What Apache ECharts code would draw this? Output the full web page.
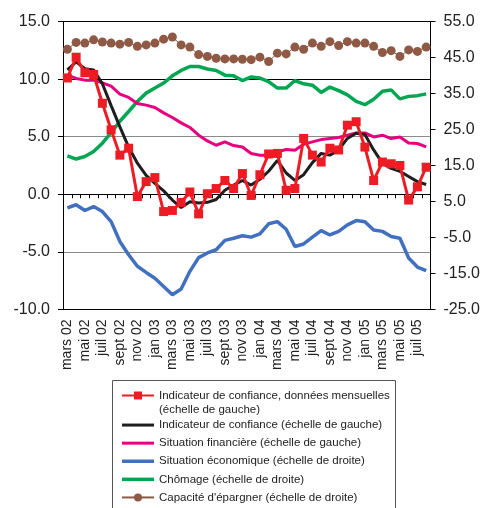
<!DOCTYPE html>
<html>
<head>
<meta charset="utf-8">
<script src="https://cdn.jsdelivr.net/npm/echarts@6/dist/echarts.min.js"></script>
<style>
  html, body { margin: 0; padding: 0; background: #fff; }
  #chart { width: 483px; height: 508px; }
</style>
</head>
<body>
<div id="chart"></div>
<script>
// Monthly categories, March 2002 to August 2005
const months = [
  'mars 02','avr 02','mai 02','juin 02','juil 02','août 02','sept 02','oct 02','nov 02','déc 02',
  'jan 03','févr 03','mars 03','avr 03','mai 03','juin 03','juil 03','août 03','sept 03','oct 03','nov 03','déc 03',
  'jan 04','févr 04','mars 04','avr 04','mai 04','juin 04','juil 04','août 04','sept 04','oct 04','nov 04','déc 04',
  'jan 05','févr 05','mars 05','avr 05','mai 05','juin 05','juil 05','août 05'
];

// Left scale series
const confianceMensuelle = [
  10.1, 11.9, 10.55, 10.4, 7.9, 5.6, 3.4, 4.0, -0.2, 1.1,
  1.45, -1.5, -1.4, -0.7, 0.2, -1.7, 0.05, 0.5, 1.2, 0.5, 1.8, -0.1,
  1.7, 3.5, 3.55, 0.35, 0.5, 4.85, 3.4, 2.8, 4.0, 3.85, 6.0, 6.3,
  4.1, 1.2, 2.8, 2.65, 2.5, -0.5, 0.65, 2.35
];
const confiance = [
  10.8, 11.5, 10.9, 10.8, 9.6, 7.7, 5.85, 4.1, 2.7, 1.65,
  0.95, 0.3, -0.5, -1.15, -0.65, -0.75, -0.7, -0.45, 0.35, 0.8, 1.2, 0.8,
  1.3, 2.0, 2.95, 1.85, 1.2, 1.7, 2.75, 3.55, 3.4, 3.85, 4.85, 5.3,
  5.2, 3.85, 2.7, 2.25, 2.0, 1.55, 1.1, 0.85
];
const situationFinanciere = [
  10.35, 10.06, 9.91, 9.91, 9.68, 9.39, 8.7, 8.41, 7.89, 7.74,
  7.54, 7.07, 6.67, 6.2, 5.8, 5.13, 4.63, 4.26, 4.55, 4.23, 4.11, 3.54,
  3.39, 3.39, 3.68, 3.89, 3.83, 4.35, 4.55, 4.75, 4.84, 4.93, 5.13, 5.33,
  5.33, 4.98, 5.13, 4.84, 4.98, 4.46, 4.41, 4.11
];

// Right scale series
const situationEconomique = [
  3.2, 4.1, 2.5, 3.6, 2.2, -0.6, -6.1, -9.8, -13.0, -14.7,
  -16.3, -18.6, -20.9, -19.3, -14.4, -10.6, -9.3, -8.4, -5.8, -5.2, -4.5, -4.9,
  -4.0, -1.2, -0.6, -2.7, -7.5, -6.8, -4.9, -3.1, -4.3, -3.3, -1.5, -0.3,
  -0.6, -2.9, -3.3, -4.7, -5.2, -10.7, -13.2, -14.2
];
const chomage = [
  17.7, 16.8, 17.5, 18.9, 21.2, 24.1, 27.3, 30.0, 32.8, 35.1,
  36.5, 37.9, 39.9, 41.4, 42.5, 42.5, 41.8, 41.4, 40.1, 39.9, 38.6, 39.6,
  39.3, 38.3, 36.5, 36.5, 38.6, 37.7, 37.3, 35.3, 36.8, 35.8, 34.6, 32.8,
  31.9, 33.4, 35.6, 36.0, 33.5, 34.2, 34.4, 34.9
];
const capaciteEpargner = [
  47.3, 49.2, 49.0, 49.9, 49.3, 49.0, 48.7, 49.2, 48.1, 48.5,
  49.0, 50.1, 50.7, 48.5, 47.9, 45.8, 45.3, 44.8, 44.6, 44.6, 44.5, 44.4,
  45.1, 43.9, 46.2, 46.0, 47.9, 47.3, 49.0, 48.1, 49.4, 48.3, 49.4, 49.0,
  49.0, 48.1, 46.4, 46.9, 45.3, 47.1, 46.7, 47.9
];

// Axis ranges
const leftAxis = { min: -10, max: 15, step: 5 };
const rightAxis = { min: -25, max: 55, step: 10 };

const FONT = '"Liberation Sans", Arial, Helvetica, sans-serif';
const TEXT = '#222';

const names = {
  mensuel: 'Indicateur de confiance, données mensuelles (échelle de gauche)',
  confiance: 'Indicateur de confiance (échelle de gauche)',
  financiere: 'Situation financière (échelle de gauche)',
  economique: 'Situation économique (échelle de droite)',
  chomage: 'Chômage (échelle de droite)',
  epargne: "Capacité d'épargner (échelle de droite)"
};

// plain bar used as legend key for series drawn without markers
const barIcon = h => 'path://M0,0H32V' + h + 'H0Z';

function lineSeries(name, data, color, width, yAxisIndex, z, extra) {
  return Object.assign({
    name: name,
    type: 'line',
    data: data,
    xAxisIndex: 0,
    yAxisIndex: yAxisIndex,
    symbol: 'none',
    smooth: false,
    z: z,
    color: color,
    lineStyle: { color: color, width: width },
    itemStyle: { color: color },
    emphasis: { disabled: true }
  }, extra || {});
}

const chart = echarts.init(document.getElementById('chart'), null, { renderer: 'canvas' });

chart.setOption({
  animation: false,
  textStyle: { fontFamily: FONT },
  grid: { left: 63, right: 52, top: 21.5, bottom: 198.5, containLabel: false },
  xAxis: [
    {
      // axis line crossing at zero on the left scale, with monthly ticks
      type: 'category',
      data: months,
      boundaryGap: true,
      position: 'bottom',
      axisLine: { show: true, onZero: true, onZeroAxisIndex: 0, lineStyle: { color: '#000', width: 1 } },
      axisTick: { show: true, interval: 0, length: 4, lineStyle: { color: '#000' } },
      axisLabel: { show: false },
      splitLine: { show: false }
    },
    {
      // month labels along the bottom of the plot
      type: 'category',
      data: months,
      boundaryGap: true,
      position: 'bottom',
      axisLine: { show: false, onZero: false },
      axisTick: { show: false },
      axisLabel: { interval: 1, rotate: 90, fontSize: 14, color: TEXT, margin: 10, fontFamily: FONT },
      splitLine: { show: false }
    }
  ],
  yAxis: [
    {
      type: 'value',
      position: 'left',
      min: leftAxis.min, max: leftAxis.max, interval: leftAxis.step,
      axisLine: { show: true, lineStyle: { color: '#000', width: 1 } },
      axisTick: { show: true, length: 5, lineStyle: { color: '#000' } },
      axisLabel: { formatter: v => v.toFixed(1), fontSize: 16, color: TEXT, margin: 13, fontFamily: FONT },
      splitLine: {
        show: true,
        lineStyle: { color: ['#000', '#8a8a8a', '#000', '#8a8a8a', '#000', '#000'], width: 1 }
      }
    },
    {
      type: 'value',
      position: 'right',
      min: rightAxis.min, max: rightAxis.max, interval: rightAxis.step,
      axisLine: { show: true, lineStyle: { color: '#000', width: 1 } },
      axisTick: { show: true, length: 5, lineStyle: { color: '#000' } },
      axisLabel: { formatter: v => v.toFixed(1), fontSize: 16, color: TEXT, margin: 13, fontFamily: FONT },
      splitLine: { show: false }
    }
  ],
  legend: {
    orient: 'vertical',
    left: 121,
    top: 374.5,
    padding: 0,
    itemGap: -1,
    itemWidth: 32,
    itemHeight: 10,
    symbolKeepAspect: true,
    // first entry wraps onto a second line, its key sitting beside the first line
    formatter: n => n.replace(', données mensuelles (', ', données mensuelles\n(').replace(/^(.*\n.*)$/, '\n$1'),
    textStyle: { fontSize: 11.5, color: TEXT, lineHeight: 19.1, fontFamily: FONT },
    data: [
      { name: names.mensuel, textStyle: { lineHeight: 14 } },
      { name: names.confiance, icon: barIcon(3) },
      { name: names.financiere, icon: barIcon(3) },
      { name: names.economique, icon: barIcon(3.5) },
      { name: names.chomage, icon: barIcon(3.5) },
      { name: names.epargne }
    ]
  },
  graphic: [
    {
      type: 'rect',
      silent: true,
      z: 0,
      shape: { x: 112.5, y: 380.5, width: 283, height: 140 },
      style: { fill: null, stroke: '#555', lineWidth: 1 }
    }
  ],
  series: [
    lineSeries(names.economique, situationEconomique, '#4170bf', 3.5, 1, 2),
    lineSeries(names.chomage, chomage, '#00a651', 3.5, 1, 3),
    lineSeries(names.financiere, situationFinanciere, '#e6007e', 3, 0, 4),
    lineSeries(names.confiance, confiance, '#1e1e1e', 3, 0, 5),
    lineSeries(names.mensuel, confianceMensuelle, '#ed1c24', 3, 0, 6, {
      symbol: 'rect', symbolSize: 9, showSymbol: true, showAllSymbol: true
    }),
    lineSeries(names.epargne, capaciteEpargner, '#8f5a45', 1, 1, 7, {
      symbol: 'circle', symbolSize: 9, showSymbol: true, showAllSymbol: true
    })
  ]
});
</script>
</body>
</html>
